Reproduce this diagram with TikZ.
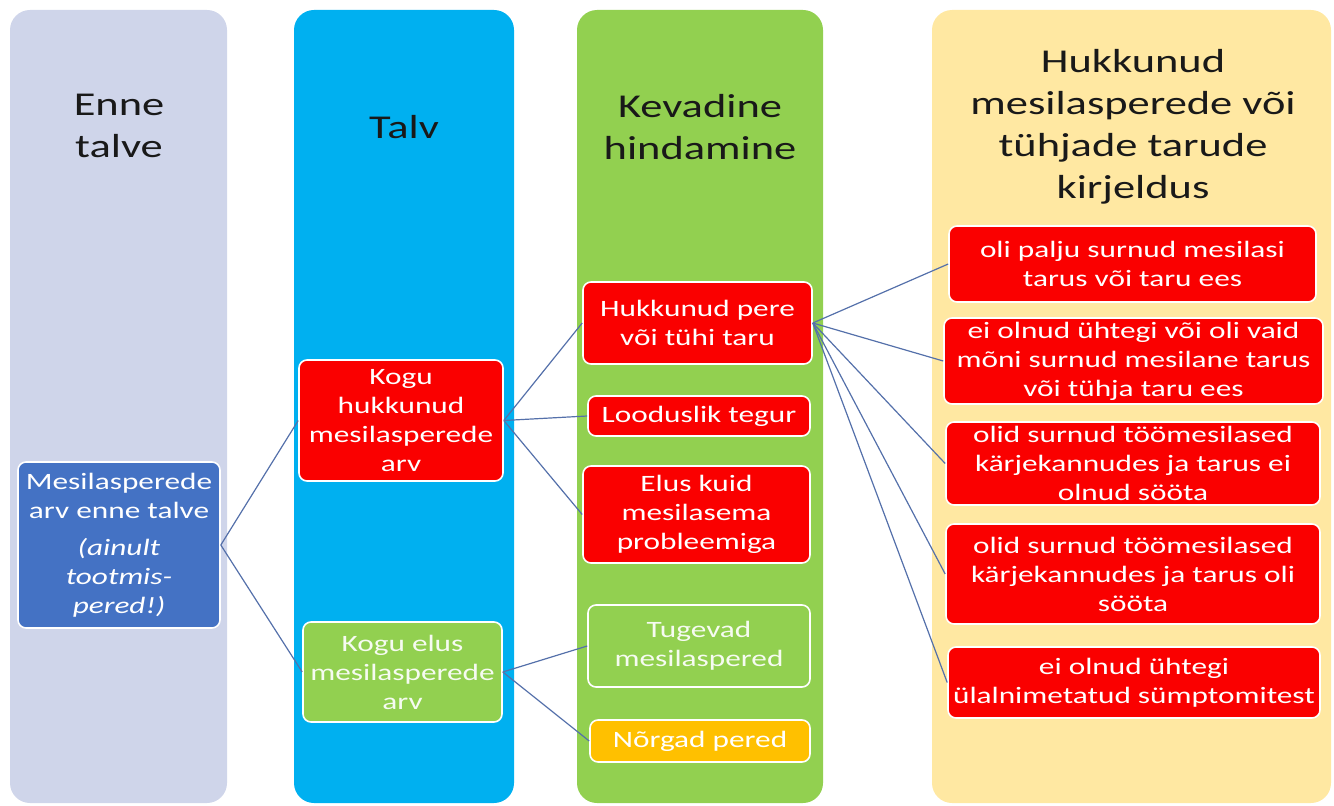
\documentclass[tikz,border=0pt]{standalone}
\usepackage{fontspec}
\setmainfont{Carlito}[FakeStretch=1.333]
\definecolor{colA}{RGB}{207,213,234}
\definecolor{colB}{RGB}{0,176,240}
\definecolor{colC}{RGB}{146,208,80}
\definecolor{colD}{RGB}{255,232,162}
\definecolor{redbox}{RGB}{250,0,0}
\definecolor{bluebox}{RGB}{68,114,196}
\definecolor{orangebox}{RGB}{255,192,0}
\definecolor{conncol}{RGB}{84,112,170}
\definecolor{titlecol}{RGB}{25,25,25}
\newcommand\bodyfnt{\fontsize{17.6pt}{21.75pt}\selectfont}
\newcommand\titlefnt{\fontsize{25pt}{31.5pt}\selectfont}
\tikzset{
  sz/.style 2 args={minimum width=#1*0.75pt, minimum height=#2*0.75pt},
  bx/.style={draw=white, line width=1.2pt, rounded corners=6pt, inner sep=0pt,
             align=center, text=white, font=\bodyfnt},
  redb/.style={bx, fill=redbox},
  greenb/.style={bx, fill=colC, text=white!92!colC},
  blueb/.style={bx, fill=bluebox},
  orangeb/.style={bx, fill=orangebox},
  ttl/.style={align=center, text=titlecol, font=\titlefnt, inner sep=0pt},
  conn/.style={draw=conncol, line width=0.9pt},
  colbg/.style={rounded corners=15pt}
}
\begin{document}
\begin{tikzpicture}[x=0.75pt,y=-0.75pt]
\useasboundingbox (0,0) rectangle (1334,806);
% columns
\fill[colA, colbg] (10,10) rectangle (227,803);
\fill[colB, colbg] (294,10) rectangle (514,803);
\fill[colC, colbg] (577,10) rectangle (823,803);
\fill[colD, colbg] (932,10) rectangle (1331,803);
% titles
\node[ttl] (t1) at (119,126) {Enne\\talve};
\node[ttl] (t2) at (404,127) {Talv};
\node[ttl] (t3) at (700,127) {Kevadine\\hindamine};
\node[ttl] (t4) at (1133,127) {Hukkunud\\mesilasperede või\\tühjade tarude\\kirjeldus};
% nodes
\node[blueb, sz={202}{166}] (A) at (119,545)
  {Mesilasperede\\arv enne talve\\[6pt]\textit{(ainult}\\\textit{tootmis-}\\\textit{pered!)}};
\node[redb, sz={204}{121}] (B) at (401,420.5) {Kogu\\hukkunud\\mesilasperede\\arv};
\node[greenb, sz={199}{100}] (C) at (402.5,672) {Kogu elus\\mesilasperede\\arv};
\node[redb, sz={229}{82}] (D) at (697.5,323) {Hukkunud pere\\või tühi taru};
\node[redb, sz={222}{40}] (E) at (699,416) {Looduslik tegur};
\node[redb, sz={227}{97}] (F) at (696.5,514.5) {Elus kuid\\mesilasema\\probleemiga};
\node[greenb, sz={222}{82}] (G) at (699,646) {Tugevad\\mesilaspered};
\node[orangeb, sz={220}{42}] (H) at (700,741) {Nõrgad pered};
\node[redb, sz={367}{76}] (I1) at (1132.5,264) {oli palju surnud mesilasi\\tarus või taru ees};
\node[redb, sz={379}{86}] (I2) at (1133.5,361) {ei olnud ühtegi või oli vaid\\mõni surnud mesilane tarus\\või tühja taru ees};
\node[redb, sz={374}{83}] (I3) at (1133,463.5) {olid surnud töömesilased\\kärjekannudes ja tarus ei\\olnud sööta};
\node[redb, sz={374}{100}] (I4) at (1133,574) {olid surnud töömesilased\\kärjekannudes ja tarus oli\\sööta};
\node[redb, sz={372}{71}] (I5) at (1134,682.5) {ei olnud ühtegi\\ülalnimetatud sümptomitest};
% connectors
\draw[conn] (A.east) -- (B.west);
\draw[conn] (A.east) -- (C.west);
\draw[conn] (B.east) -- (D.west);
\draw[conn] (B.east) -- (E.west);
\draw[conn] (B.east) -- (F.west);
\draw[conn] (C.east) -- (G.west);
\draw[conn] (C.east) -- (H.west);
\draw[conn] (D.east) -- (I1.west);
\draw[conn] (D.east) -- (I2.west);
\draw[conn] (D.east) -- (I3.west);
\draw[conn] (D.east) -- (I4.west);
\draw[conn] (D.east) -- (I5.west);
\end{tikzpicture}
\end{document}
